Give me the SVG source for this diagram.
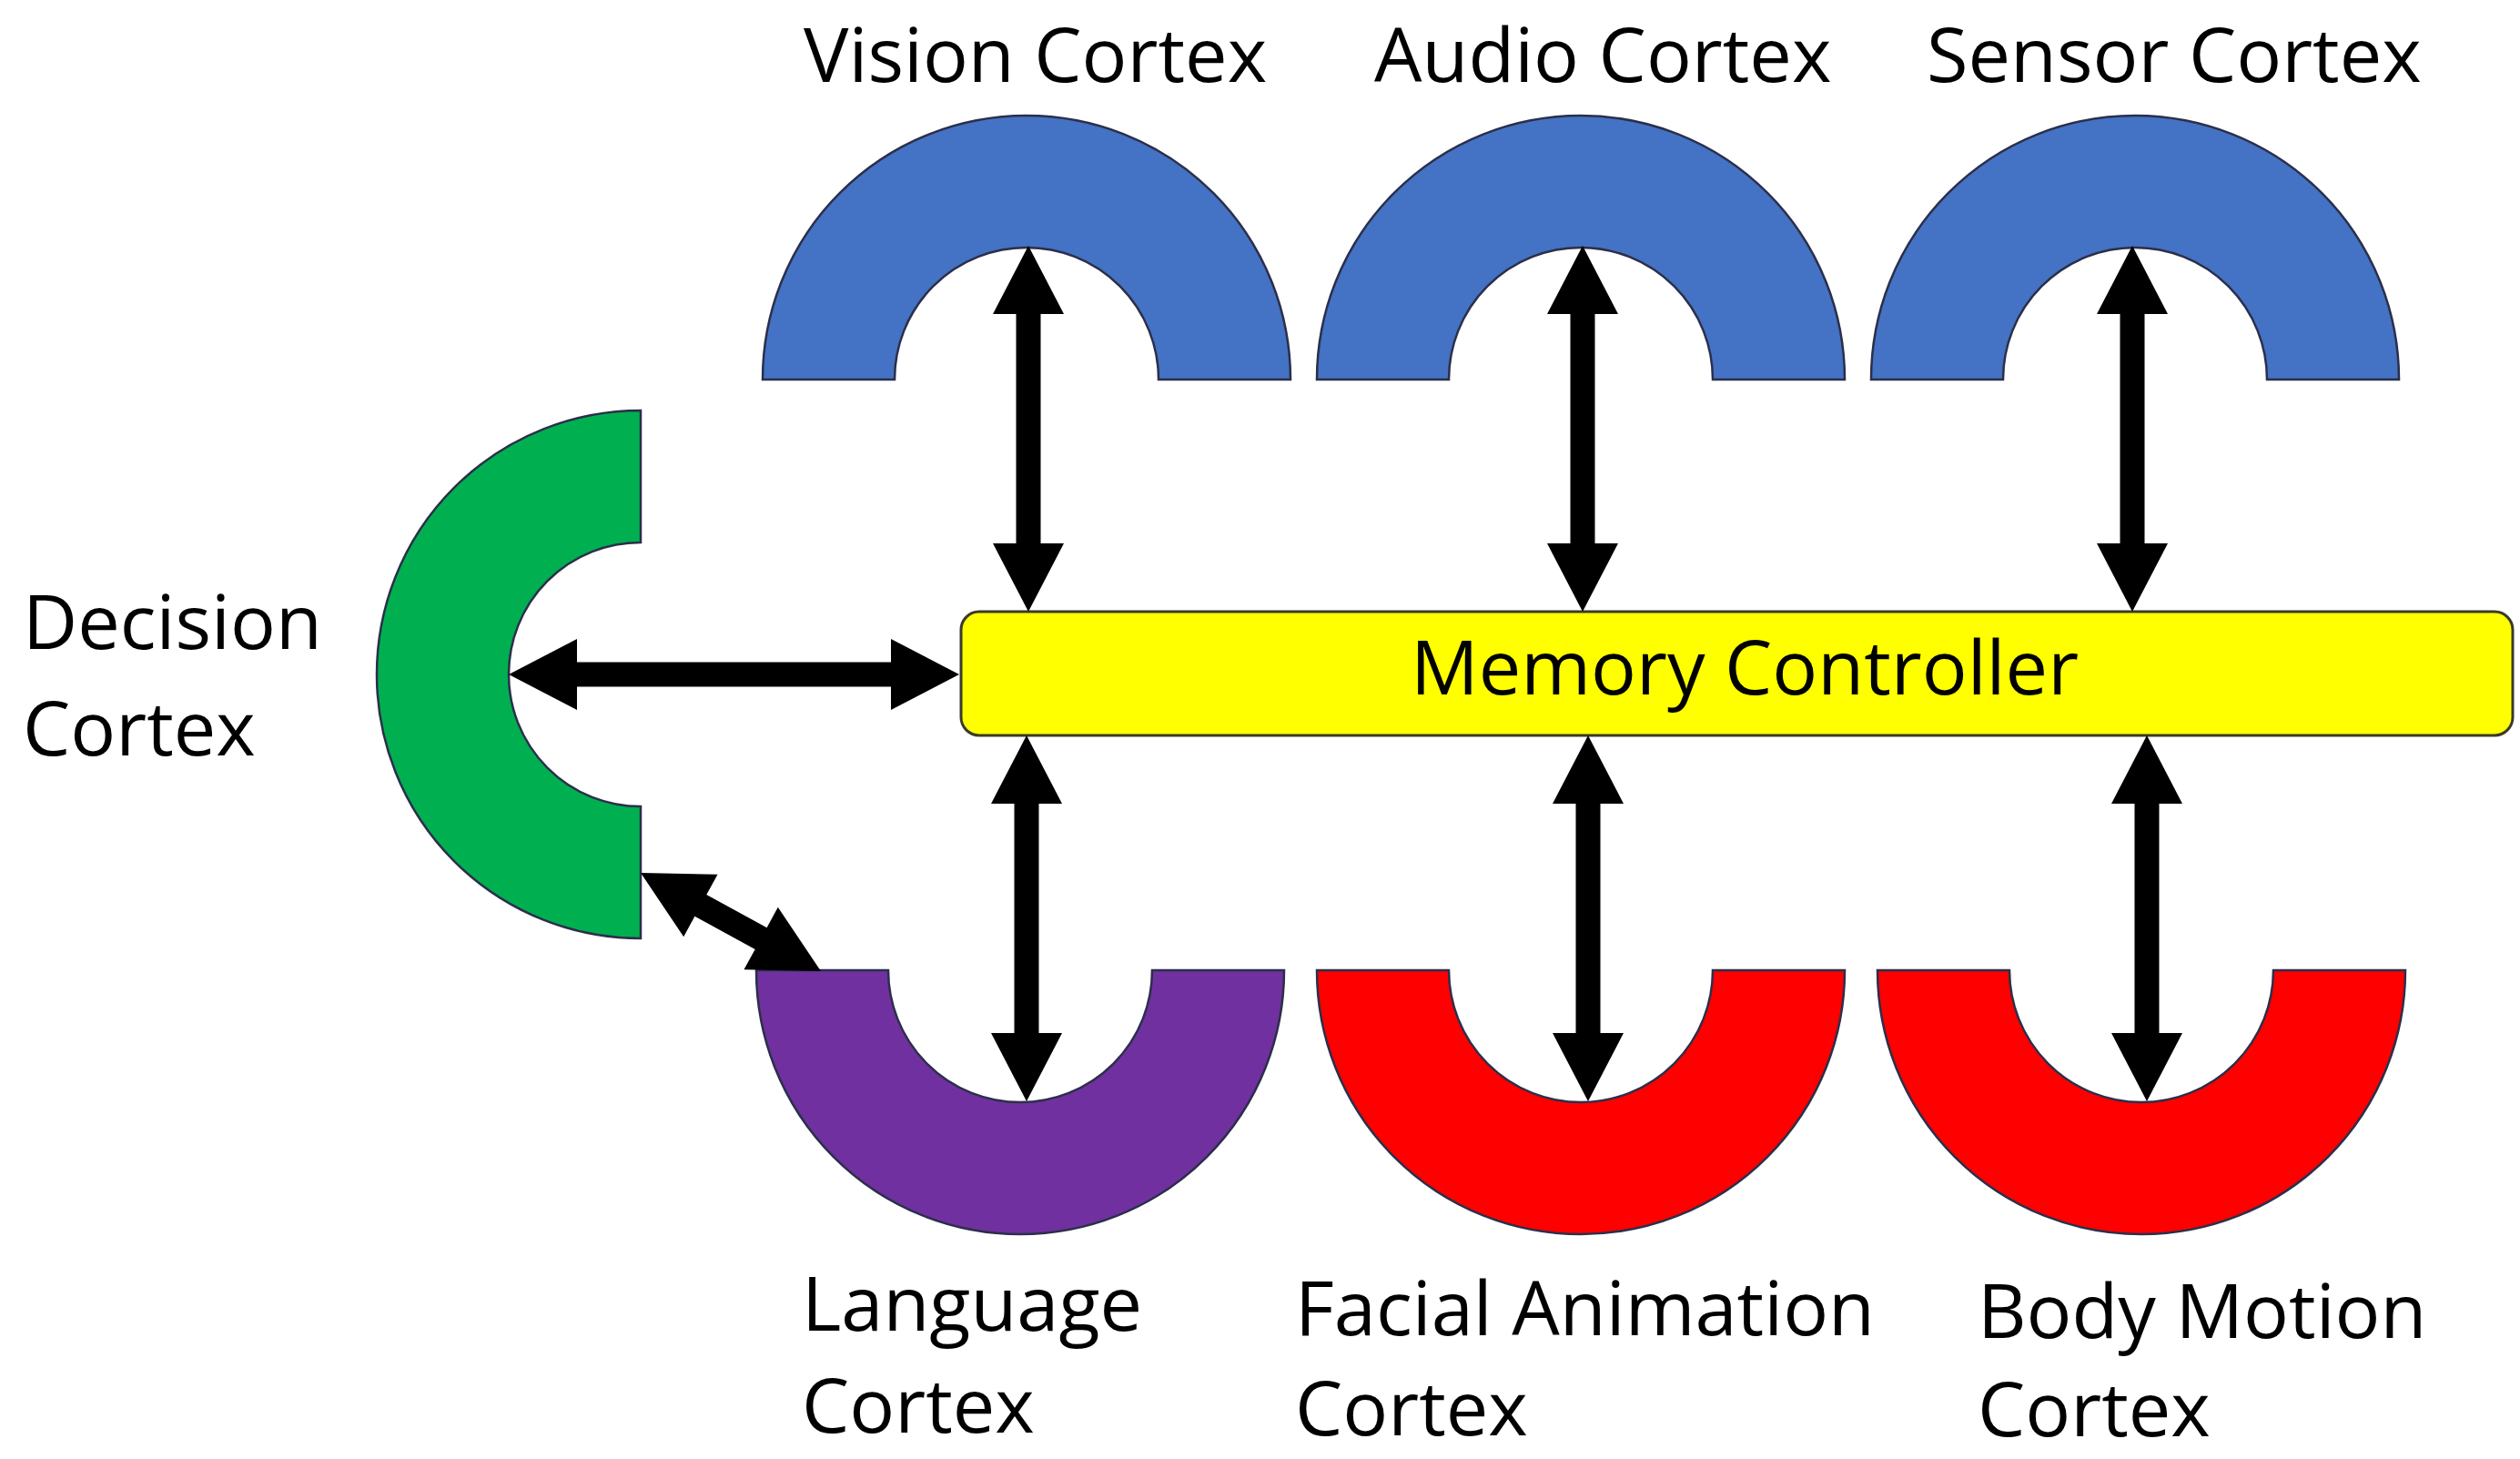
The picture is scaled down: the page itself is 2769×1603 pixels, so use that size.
<svg xmlns="http://www.w3.org/2000/svg" width="2769" height="1603" viewBox="0 0 2769 1603">
  <style>
    .lbl { font-family: "Open Sans", "Liberation Sans", sans-serif; font-size: 83px; fill: #000; }
    .arc { stroke: #2B2F4A; stroke-width: 2.5; stroke-linejoin: miter; }
    .blue { fill: #4472C4; }
    .green { fill: #00B050; }
    .purple { fill: #7030A0; }
    .red { fill: #FF0000; }
    .arrow { fill: #000; stroke: none; }
  </style>
  <defs>
    <path id="va" d="M0,0 L39,75 L13.5,75 L13.5,327 L39,327 L0,402 L-39,327 L-13.5,327 L-13.5,75 L-39,75 Z"/>
  </defs>
  <rect x="0" y="0" width="2769" height="1603" fill="#FFFFFF"/>

  <g id="vision-cortex">
    <path class="arc blue" d="M838,417 A290,290 0 0 1 1418,417 L1273,417 A145,145 0 0 0 983,417 Z"/>
    <text class="lbl" x="883" y="90">Vision Cortex</text>
  </g>
  <g id="audio-cortex">
    <path class="arc blue" d="M1447,417 A290,290 0 0 1 2027,417 L1882,417 A145,145 0 0 0 1592,417 Z"/>
    <text class="lbl" x="1510" y="90">Audio Cortex</text>
  </g>
  <g id="sensor-cortex">
    <path class="arc blue" d="M2056,417 A290,290 0 0 1 2636,417 L2491,417 A145,145 0 0 0 2201,417 Z"/>
    <text class="lbl" x="2117" y="90">Sensor Cortex</text>
  </g>
  <g id="decision-cortex">
    <path class="arc green" d="M704,451 A290,290 0 0 0 704,1031 L704,886 A145,145 0 0 1 704,596 Z"/>
    <text class="lbl" x="25" y="713">Decision</text>
    <text class="lbl" x="25" y="830">Cortex</text>
  </g>
  <g id="memory-controller">
    <rect x="1056" y="672" width="1705" height="136" rx="20" ry="20" fill="#FFFF00" stroke="#3A3A2A" stroke-width="3"/>
    <text class="lbl" x="1550" y="763">Memory Controller</text>
  </g>
  <g id="language-cortex">
    <path class="arc purple" d="M831,1066 A290,290 0 0 0 1411,1066 L1266,1066 A145,145 0 0 1 976,1066 Z"/>
    <text class="lbl" x="881" y="1462">Language</text>
    <text class="lbl" x="881" y="1574">Cortex</text>
  </g>
  <g id="facial-animation-cortex">
    <path class="arc red" d="M1447,1066 A290,290 0 0 0 2027,1066 L1882,1066 A145,145 0 0 1 1592,1066 Z"/>
    <text class="lbl" x="1423" y="1467">Facial Animation</text>
    <text class="lbl" x="1423" y="1577">Cortex</text>
  </g>
  <g id="body-motion-cortex">
    <path class="arc red" d="M2063,1066 A290,290 0 0 0 2643,1066 L2498,1066 A145,145 0 0 1 2208,1066 Z"/>
    <text class="lbl" x="2173" y="1470">Body Motion</text>
    <text class="lbl" x="2173" y="1578">Cortex</text>
  </g>

  <g id="connectors" class="arrow">
    <use href="#va" transform="translate(1130,270)"/>
    <use href="#va" transform="translate(1739,270)"/>
    <use href="#va" transform="translate(2343,270)"/>
    <use href="#va" transform="translate(1128,808)"/>
    <use href="#va" transform="translate(1745,808)"/>
    <use href="#va" transform="translate(2359,808)"/>
    <path d="M559,741 L634,702 L634,727.5 L979,727.5 L979,702 L1054,741 L979,780 L979,754.5 L634,754.5 L634,780 Z"/>
    <path transform="translate(704 959) rotate(28.6)" d="M0,0 L75,-39 L75,-13.5 L150.5,-13.5 L150.5,-39 L225.5,0 L150.5,39 L150.5,13.5 L75,13.5 L75,39 Z"/>
  </g>
</svg>
